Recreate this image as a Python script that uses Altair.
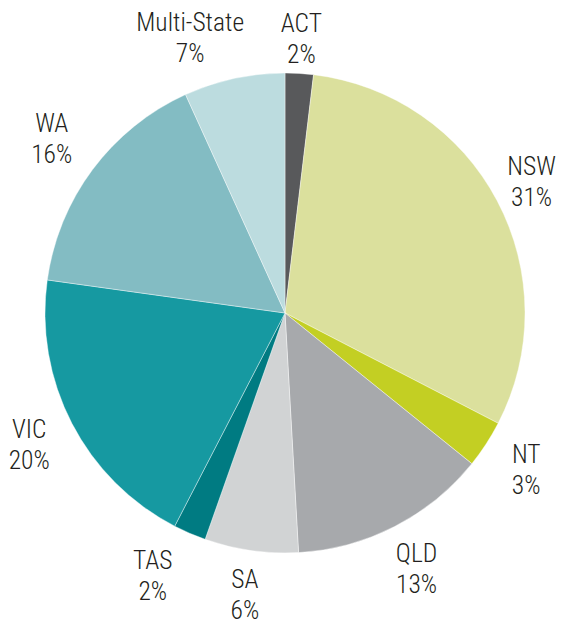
import altair as alt
import pandas as pd

states = ["ACT", "NSW", "NT", "QLD", "SA", "TAS", "VIC", "WA", "Multi-State"]
shares = [1.9, 30.7, 3.2, 13.3, 6.3, 2.2, 19.6, 16.0, 6.8]
pct_labels = ["2%", "31%", "3%", "13%", "6%", "2%", "20%", "16%", "7%"]
colors = ["#58595b", "#dbe09d", "#c3cf23", "#a7a9ac", "#d1d3d4",
          "#007b82", "#1699a1", "#83bcc3", "#bcdcdf"]

# layout: label distance from the pie centre (pixels) and small angular nudges
# (in share units) for labels that sit away from their slice's midpoint
LABEL_R = 288
label_r = {"ACT": 274, "NSW": 279, "SA": 285, "TAS": 295, "WA": 291, "Multi-State": 290}
label_nudge = {"Multi-State": -1.9, "TAS": 0.9}

df = pd.DataFrame({
    "state": states,
    "share": shares,
    "label": [f"{s}\n{p}" for s, p in zip(states, pct_labels)],
    "order": list(range(len(states))),
})
df["r"] = [label_r.get(s, LABEL_R) for s in states]
df["nudge"] = [label_nudge.get(s, 0.0) for s in states]
total = float(sum(shares))

cx, cy = 277, 305
FONT_SIZE = 25.5
LINE_H = 31
theta_scale = alt.Scale(domain=[0, total])

pie = alt.Chart(df).mark_arc(outerRadius=240, stroke="white", strokeWidth=0.4).encode(
    theta=alt.Theta("share:Q", stack=True, scale=theta_scale),
    order=alt.Order("order:Q", sort="ascending"),
    x=alt.value(cx),
    y=alt.value(cy),
    color=alt.Color("state:N", scale=alt.Scale(domain=states, range=colors), legend=None),
)

labels = alt.Chart(df).transform_window(
    cum="sum(share)", sort=[alt.SortField("order", order="ascending")]
).transform_calculate(
    mid="datum.cum - datum.share / 2 + datum.nudge"
).mark_text(
    lineBreak="\n",
    fontSize=FONT_SIZE,
    lineHeight=LINE_H,
    dy=-LINE_H / 2,
    fontWeight=300,
    font="Roboto Condensed, Liberation Sans Narrow, DejaVu Sans Condensed, sans-serif",
    color="#231f20",
    align="center",
    baseline="middle",
).encode(
    theta=alt.Theta("mid:Q", stack=None, scale=theta_scale),
    x=alt.value(cx),
    y=alt.value(cy),
    radius=alt.Radius("r:Q", scale=None),
    text="label:N",
)

chart = alt.layer(pie, labels).properties(
    width=548, height=616, padding=0,
    autosize=alt.AutoSizeParams(type="none"),
).configure_view(stroke=None)

chart.save("out.html", embed_options={"renderer": "svg", "actions": False})
